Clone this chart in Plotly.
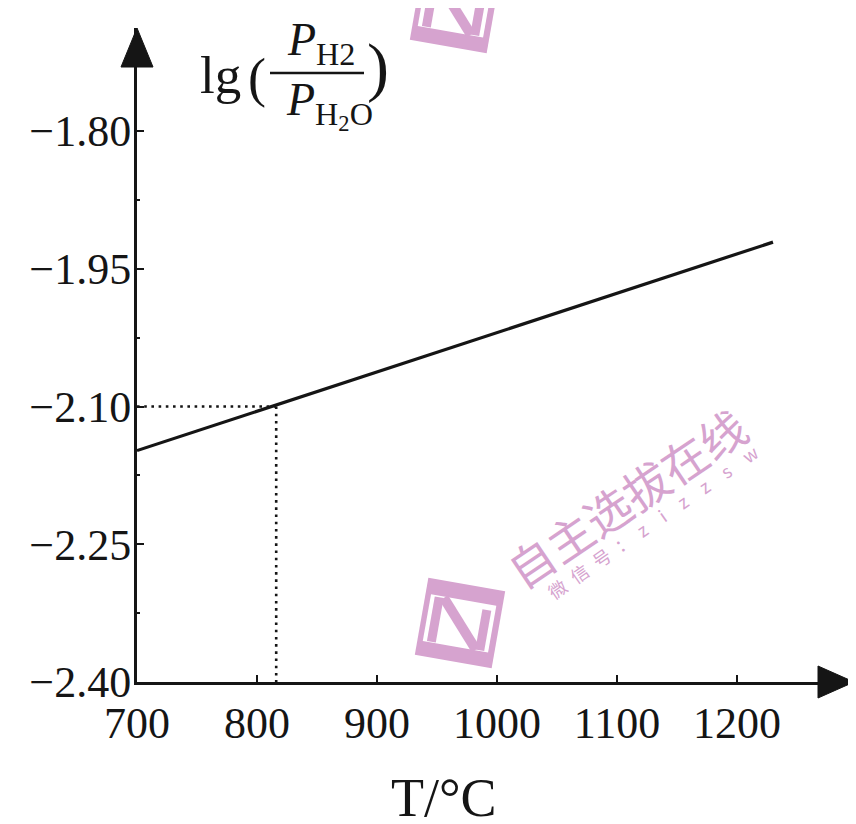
import math
import plotly.graph_objects as go

# ---- data ----
T_line = [700, 1230]
lg_line = [-2.148, -1.921]
T_mark = 816
lg_mark = -2.10
x_tick_vals = [700, 800, 900, 1000, 1100, 1200]
x_tick_text = ["700", "800", "900", "1000", "1100", "1200"]
y_tick_vals = [-2.40, -2.25, -2.10, -1.95, -1.80]
y_tick_text = ["−2.40", "−2.25", "−2.10", "−1.95", "−1.80"]
y_minor_vals = [-2.325, -2.175, -2.025, -1.875]

# page body has an 8px margin; figure is sized to fit the window
OFF = 8
W, H = 856 - OFF, 824 - OFF
ML, MR, MT, MB = 129, 4, 20, 142
PW, PH = W - ML - MR, H - MT - MB


def px(x):  # page pixel -> paper
    return (x - OFF - ML) / PW


def py(y):
    return (H - MB - (y - OFF)) / PH


INK = "#151515"
PINK = "#d6a3cf"
SERIF = "Liberation Serif"

fig = go.Figure()
fig.add_trace(go.Scatter(x=T_line, y=lg_line, mode="lines",
                         line=dict(color=INK, width=3.2), hoverinfo="skip"))
fig.add_trace(go.Scatter(x=[T_line[0], T_mark], y=[lg_mark, lg_mark], mode="lines",
                         line=dict(color=INK, width=2.6, dash="2.6px,4.6px"), hoverinfo="skip"))
fig.add_trace(go.Scatter(x=[T_mark, T_mark], y=[lg_mark, y_tick_vals[0]], mode="lines",
                         line=dict(color=INK, width=2.6, dash="2.6px,4.6px"), hoverinfo="skip"))

x_max = 700 + PW / 1.2
y_max = -2.40 + PH / 918.33

fig.update_xaxes(range=[700, x_max], showgrid=False, zeroline=False,
                 showline=True, linecolor=INK, linewidth=3,
                 tickmode="array", tickvals=x_tick_vals, ticktext=x_tick_text,
                 ticks="inside", ticklen=7, tickwidth=2, tickcolor=INK,
                 tickfont=dict(family=SERIF, size=44, color=INK),
                 ticklabelstandoff=0)
fig.update_yaxes(range=[-2.40, y_max], showgrid=False, zeroline=False,
                 showline=True, linecolor=INK, linewidth=3,
                 tickmode="array", tickvals=y_tick_vals, ticktext=y_tick_text,
                 ticks="inside", ticklen=7, tickwidth=2, tickcolor=INK,
                 minor=dict(tickmode="array", tickvals=y_minor_vals, ticks="inside",
                            ticklen=3, tickwidth=2, tickcolor=INK),
                 tickfont=dict(family=SERIF, size=44, color=INK),
                 ticklabelstandoff=-6)

shapes = []
# axis arrows
shapes.append(dict(type="path", xref="paper", yref="paper",
                   path=f"M {px(137)} {py(28)} L {px(121)} {py(67)} L {px(153)} {py(67)} Z",
                   fillcolor=INK, line=dict(color=INK, width=1)))
shapes.append(dict(type="path", xref="paper", yref="paper",
                   path=f"M {px(854)} {py(682)} L {px(818)} {py(666)} L {px(818)} {py(698)} Z",
                   fillcolor=INK, line=dict(color=INK, width=1)))
# fraction bar
shapes.append(dict(type="line", xref="paper", yref="paper",
                   x0=px(270), x1=px(364), y0=py(73), y1=py(73),
                   line=dict(color=INK, width=2.5)))


# watermark logos: pink frame, white interior, pink N
def logo_shapes(cx, cy, s=39, ang=10):
    a = math.radians(ang)
    ca, sa = math.cos(a), math.sin(a)

    def pt(u, v):
        x = cx + (u * ca - v * sa) * s
        y = cy + (u * sa + v * ca) * s
        return f"{px(x)} {py(y)}"

    def poly(pts):
        return "M " + " L ".join(pt(u, v) for u, v in pts) + " Z"

    out = [
        dict(type="path", xref="paper", yref="paper",
             path=poly([(-1, -1), (1, -1), (1, 1), (-1, 1)]),
             fillcolor=PINK, line=dict(width=0), layer="above"),
        dict(type="path", xref="paper", yref="paper",
             path=poly([(-0.86, -0.6), (0.84, -0.6), (0.84, 0.62), (-0.86, 0.62)]),
             fillcolor="white", line=dict(width=0), layer="above"),
    ]
    n_path = "M " + pt(-0.64, 0.6) + " L " + pt(-0.64, -0.56)
    out.append(dict(type="path", xref="paper", yref="paper", path=n_path,
                    line=dict(color=PINK, width=9), layer="above"))
    n_path = "M " + pt(-0.52, -0.56) + " L " + pt(0.52, 0.6)
    out.append(dict(type="path", xref="paper", yref="paper", path=n_path,
                    line=dict(color=PINK, width=10), layer="above"))
    n_path = "M " + pt(0.62, 0.6) + " L " + pt(0.62, -0.45)
    out.append(dict(type="path", xref="paper", yref="paper", path=n_path,
                    line=dict(color=PINK, width=9), layer="above"))
    return out


shapes += logo_shapes(460, 623)
shapes += logo_shapes(455, 8)

annotations = []
annotations.append(dict(x=px(626), y=py(497), xref="paper", yref="paper",
                        text="自主选拔在线", showarrow=False, textangle=-34,
                        font=dict(family="Noto Sans CJK SC", size=46, color=PINK),
                        xanchor="center", yanchor="middle"))
sub_txt = "微\u2002信\u2002号\u2002：\u2002z\u2003i\u2003z\u2003z\u2003s\u2003w"
annotations.append(dict(x=px(652), y=py(522), xref="paper", yref="paper",
                        text=sub_txt, showarrow=False, textangle=-35,
                        font=dict(family="Noto Sans CJK SC", size=18, color=PINK),
                        xanchor="center", yanchor="middle"))

# y-axis title pieces
annotations.append(dict(x=px(198), y=py(75), xref="paper", yref="paper",
                        text="lg", showarrow=False,
                        font=dict(family=SERIF, size=53, color=INK),
                        xanchor="left", yanchor="middle"))
annotations.append(dict(x=px(257), y=py(78), xref="paper", yref="paper",
                        text="(", showarrow=False,
                        font=dict(family=SERIF, size=54, color=INK),
                        xanchor="center", yanchor="middle"))
annotations.append(dict(x=px(378), y=py(67), xref="paper", yref="paper",
                        text=")", showarrow=False,
                        font=dict(family=SERIF, size=66, color=INK),
                        xanchor="center", yanchor="middle"))
annotations.append(dict(x=px(321), y=py(43), xref="paper", yref="paper",
                        text="<i>P</i><sub>H2</sub>", showarrow=False,
                        font=dict(family=SERIF, size=46, color=INK),
                        xanchor="center", yanchor="middle"))
annotations.append(dict(x=px(329), y=py(105), xref="paper", yref="paper",
                        text="<i>P</i><sub>H<sub>2</sub>O</sub>", showarrow=False,
                        font=dict(family=SERIF, size=46, color=INK),
                        xanchor="center", yanchor="middle"))
# x-axis title
annotations.append(dict(x=px(444), y=py(798), xref="paper", yref="paper",
                        text="T/°C", showarrow=False,
                        font=dict(family=SERIF, size=54, color=INK),
                        xanchor="center", yanchor="middle"))

fig.update_layout(width=W, height=H, margin=dict(l=ML, r=MR, t=MT, b=MB),
                  paper_bgcolor="white", plot_bgcolor="white",
                  showlegend=False, shapes=shapes, annotations=annotations)

fig.write_html("out.html")
